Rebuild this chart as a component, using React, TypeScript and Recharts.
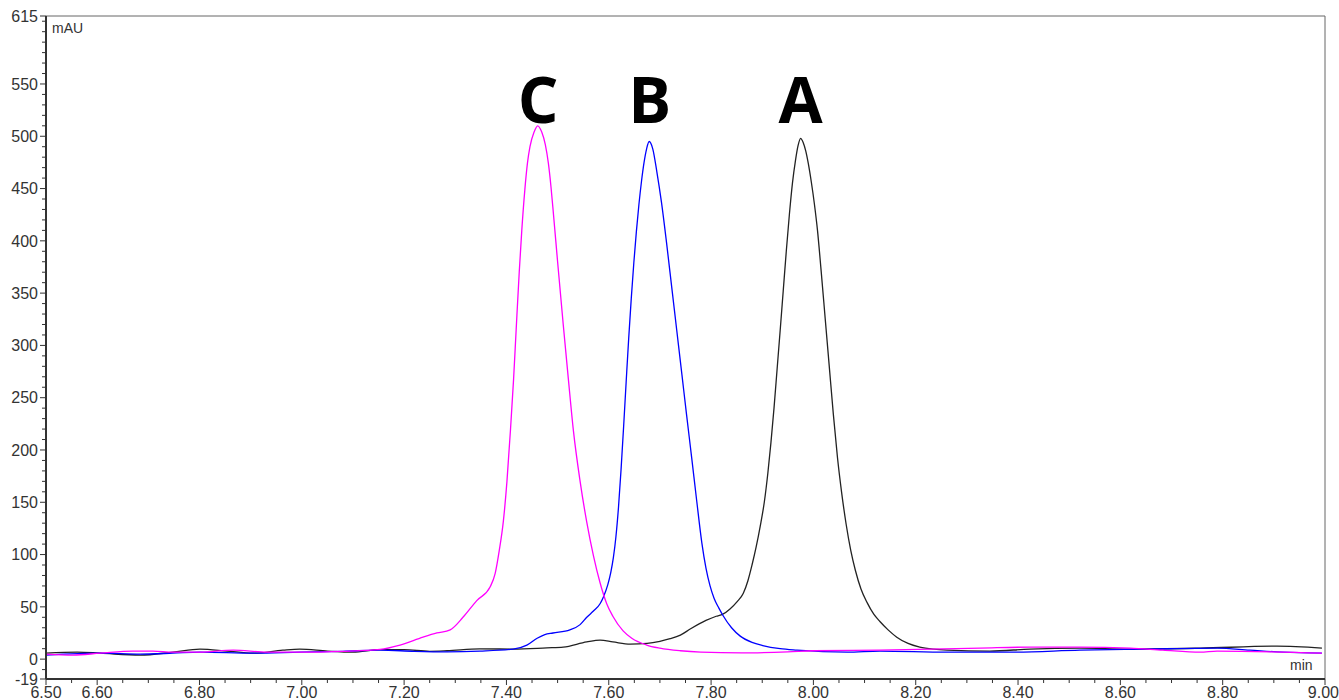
import { ComposedChart, Line, Scatter, XAxis, YAxis, ReferenceArea } from "recharts";

type Pt = { t: number; v: number };

// retention time (min) vs absorbance (mAU)
const seriesA: Pt[] = [
  { t: 6.5, v: 5.7 }, { t: 6.561, v: 6.7 }, { t: 6.606, v: 5.7 }, { t: 6.684, v: 3.8 },
  { t: 6.748, v: 6.7 }, { t: 6.801, v: 9.6 }, { t: 6.854, v: 7.7 }, { t: 6.905, v: 5.7 },
  { t: 6.963, v: 8.6 }, { t: 6.996, v: 9.6 }, { t: 7.05, v: 7.7 }, { t: 7.1, v: 6.7 },
  { t: 7.153, v: 9.0 }, { t: 7.2, v: 9.0 }, { t: 7.25, v: 7.5 }, { t: 7.284, v: 8.0 },
  { t: 7.348, v: 9.8 }, { t: 7.413, v: 9.6 }, { t: 7.479, v: 10.8 }, { t: 7.511, v: 11.5 },
  { t: 7.557, v: 16.5 }, { t: 7.583, v: 18.2 }, { t: 7.608, v: 16.5 }, { t: 7.642, v: 14.3 },
  { t: 7.675, v: 15 }, { t: 7.7, v: 17 }, { t: 7.72, v: 19.5 }, { t: 7.74, v: 23 },
  { t: 7.76, v: 29 }, { t: 7.79, v: 37 }, { t: 7.81, v: 41 }, { t: 7.823, v: 43 },
  { t: 7.837, v: 48 }, { t: 7.851, v: 55 }, { t: 7.863, v: 63 }, { t: 7.872, v: 75 },
  { t: 7.88, v: 90 }, { t: 7.888, v: 107 }, { t: 7.896, v: 127 }, { t: 7.904, v: 150 },
  { t: 7.911, v: 178 }, { t: 7.917, v: 207 }, { t: 7.923, v: 240 }, { t: 7.929, v: 277 },
  { t: 7.935, v: 314 }, { t: 7.941, v: 352 }, { t: 7.947, v: 390 }, { t: 7.953, v: 425 },
  { t: 7.959, v: 455 }, { t: 7.965, v: 477 }, { t: 7.97, v: 491 }, { t: 7.975, v: 498 },
  { t: 7.98, v: 494 }, { t: 7.985, v: 486 }, { t: 7.99, v: 474 }, { t: 7.996, v: 456 },
  { t: 8.002, v: 435 }, { t: 8.008, v: 410 }, { t: 8.015, v: 372 }, { t: 8.023, v: 326 },
  { t: 8.031, v: 280 }, { t: 8.039, v: 234 }, { t: 8.047, v: 193 }, { t: 8.055, v: 160 },
  { t: 8.064, v: 129 }, { t: 8.073, v: 104 }, { t: 8.082, v: 85 }, { t: 8.093, v: 67 },
  { t: 8.105, v: 54 }, { t: 8.118, v: 43 }, { t: 8.13, v: 36 }, { t: 8.146, v: 28 },
  { t: 8.163, v: 21 }, { t: 8.185, v: 15 }, { t: 8.208, v: 11.5 }, { t: 8.235, v: 9.5 },
  { t: 8.261, v: 8.6 }, { t: 8.345, v: 7.7 }, { t: 8.423, v: 9.6 }, { t: 8.521, v: 10.5 },
  { t: 8.619, v: 9.6 }, { t: 8.756, v: 10.5 }, { t: 8.906, v: 12.4 }, { t: 8.994, v: 10.5 },
];

const seriesB: Pt[] = [
  { t: 6.5, v: 3.8 }, { t: 6.606, v: 5.7 }, { t: 6.684, v: 4.8 }, { t: 6.748, v: 5.7 },
  { t: 6.801, v: 6.7 }, { t: 6.905, v: 5.7 }, { t: 6.996, v: 6.7 }, { t: 7.08, v: 7.5 },
  { t: 7.153, v: 8.6 }, { t: 7.22, v: 7.5 }, { t: 7.284, v: 7.0 }, { t: 7.348, v: 7.7 },
  { t: 7.413, v: 9.6 }, { t: 7.44, v: 13.4 }, { t: 7.46, v: 20 }, { t: 7.475, v: 23.5 },
  { t: 7.491, v: 25 }, { t: 7.524, v: 28 }, { t: 7.544, v: 33 }, { t: 7.557, v: 40 },
  { t: 7.57, v: 46 }, { t: 7.583, v: 53 }, { t: 7.59, v: 60 }, { t: 7.598, v: 71 },
  { t: 7.604, v: 83 }, { t: 7.609, v: 97 }, { t: 7.614, v: 117 }, { t: 7.619, v: 145 },
  { t: 7.624, v: 181 }, { t: 7.629, v: 222 }, { t: 7.634, v: 265 }, { t: 7.639, v: 307 },
  { t: 7.644, v: 345 }, { t: 7.649, v: 379 }, { t: 7.654, v: 409 }, { t: 7.659, v: 435 },
  { t: 7.664, v: 457 }, { t: 7.669, v: 475 }, { t: 7.674, v: 488 }, { t: 7.679, v: 495 },
  { t: 7.686, v: 488 }, { t: 7.694, v: 466 }, { t: 7.703, v: 437 }, { t: 7.713, v: 398 },
  { t: 7.723, v: 356 }, { t: 7.733, v: 314 }, { t: 7.743, v: 272 }, { t: 7.752, v: 234 },
  { t: 7.762, v: 193 }, { t: 7.772, v: 151 }, { t: 7.782, v: 111 }, { t: 7.79, v: 87 },
  { t: 7.798, v: 70 }, { t: 7.806, v: 58 }, { t: 7.815, v: 49 }, { t: 7.823, v: 42 },
  { t: 7.84, v: 30 }, { t: 7.857, v: 22 }, { t: 7.88, v: 16 }, { t: 7.901, v: 13 },
  { t: 7.935, v: 10 }, { t: 7.968, v: 8.6 }, { t: 8.066, v: 6.7 }, { t: 8.13, v: 7.7 },
  { t: 8.261, v: 6.7 }, { t: 8.39, v: 6.7 }, { t: 8.521, v: 8.6 }, { t: 8.652, v: 9.6 },
  { t: 8.789, v: 10.5 }, { t: 8.853, v: 8.6 }, { t: 8.918, v: 6.7 }, { t: 8.994, v: 5.7 },
];

const seriesC: Pt[] = [
  { t: 6.5, v: 4.8 }, { t: 6.553, v: 3.8 }, { t: 6.606, v: 5.7 }, { t: 6.67, v: 7.7 },
  { t: 6.709, v: 7.7 }, { t: 6.748, v: 6.7 }, { t: 6.801, v: 6.7 }, { t: 6.866, v: 8.6 },
  { t: 6.932, v: 6.7 }, { t: 6.996, v: 6.7 }, { t: 7.08, v: 7.5 }, { t: 7.153, v: 9.3 },
  { t: 7.192, v: 13.4 }, { t: 7.237, v: 21 }, { t: 7.264, v: 25 }, { t: 7.29, v: 28 },
  { t: 7.315, v: 40 }, { t: 7.342, v: 56 }, { t: 7.368, v: 69 }, { t: 7.378, v: 82 },
  { t: 7.386, v: 104 }, { t: 7.394, v: 132 }, { t: 7.401, v: 170 }, { t: 7.408, v: 220 },
  { t: 7.414, v: 268 }, { t: 7.419, v: 315 }, { t: 7.425, v: 370 }, { t: 7.43, v: 410 },
  { t: 7.436, v: 449 }, { t: 7.441, v: 474 }, { t: 7.446, v: 490 }, { t: 7.454, v: 504 },
  { t: 7.461, v: 510 }, { t: 7.469, v: 504 }, { t: 7.476, v: 492 }, { t: 7.482, v: 474 },
  { t: 7.487, v: 452 }, { t: 7.492, v: 425 }, { t: 7.5, v: 380 }, { t: 7.511, v: 320 },
  { t: 7.521, v: 268 }, { t: 7.531, v: 218 }, { t: 7.544, v: 170 }, { t: 7.557, v: 131 },
  { t: 7.57, v: 99 }, { t: 7.583, v: 73 }, { t: 7.596, v: 53 }, { t: 7.608, v: 41 },
  { t: 7.628, v: 27 }, { t: 7.645, v: 20 }, { t: 7.674, v: 13.5 }, { t: 7.7, v: 10.5 },
  { t: 7.74, v: 8 }, { t: 7.78, v: 6.7 }, { t: 7.86, v: 6 }, { t: 7.95, v: 7 },
  { t: 8.0, v: 8.0 }, { t: 8.13, v: 8.6 }, { t: 8.326, v: 10.5 }, { t: 8.423, v: 11.5 },
  { t: 8.521, v: 11.5 }, { t: 8.619, v: 10.5 }, { t: 8.683, v: 8.6 }, { t: 8.756, v: 6.7 },
  { t: 8.789, v: 7.7 }, { t: 8.994, v: 5.7 },
];

const peakLabels = [
  { t: 7.462, v: 512.6, name: "C" },
  { t: 7.68, v: 512.6, name: "B" },
  { t: 7.975, v: 512.6, name: "A" },
];

const xDomain: [number, number] = [6.5, 9.0];
const yDomain: [number, number] = [-19, 615];
const xLabels = [6.5, 6.6, 6.8, 7.0, 7.2, 7.4, 7.6, 7.8, 8.0, 8.2, 8.4, 8.6, 8.8, 9.0];
const yLabels = [-19, 0, 50, 100, 150, 200, 250, 300, 350, 400, 450, 500, 550, 615];
const xMinorStep = 0.05;
const yMinorStep = 10;

function steps(from: number, to: number, step: number): number[] {
  const out: number[] = [];
  for (let i = 0; from + i * step <= to + 1e-9; i++) out.push(Math.round((from + i * step) * 1000) / 1000);
  return out;
}

const xTicks = steps(xDomain[0], xDomain[1], xMinorStep);
const yTicks = Array.from(new Set([...yLabels, ...steps(-10, 610, yMinorStep)])).sort((a, b) => a - b);

const FONT = "'Liberation Sans', Arial, sans-serif";
const AXIS = "#333";

const isLabel = (list: number[], v: number) => list.some((l) => Math.abs(l - v) < 1e-6);

function XTick(props: any) {
  const { x, y, payload } = props;
  const lab = isLabel(xLabels, payload.value);
  const last = Math.abs(payload.value - xDomain[1]) < 1e-6;
  return (
    <g>
      <line x1={x} y1={y} x2={x} y2={y + (lab ? 6 : 4)} stroke={AXIS} />
      {lab && (
        <text
          x={last ? x + 14 : x}
          y={y + 19}
          textAnchor={last ? "end" : "middle"}
          fontSize={16}
          fill={AXIS}
          fontFamily={FONT}
        >
          {payload.value.toFixed(2)}
        </text>
      )}
    </g>
  );
}

function YTick(props: any) {
  const { x, y, payload } = props;
  const lab = isLabel(yLabels, payload.value);
  return (
    <g>
      <line x1={x} y1={y} x2={x - (lab ? 6 : 4)} y2={y} stroke={AXIS} />
      {lab && (
        <text x={x - 8} y={y} dy="0.36em" textAnchor="end" fontSize={16} fill={AXIS} fontFamily={FONT}>
          {payload.value}
        </text>
      )}
    </g>
  );
}

function PeakName(props: any) {
  const { cx, cy, payload } = props;
  return (
    <text x={cx} y={cy} textAnchor="middle" fontSize={64} fontWeight={700} fill="#000" fontFamily="'Open Sans', sans-serif">
      {payload.name}
    </text>
  );
}

export default function App() {
  return (
    <div style={{ position: "absolute", left: 0, top: 0, width: 1339, height: 700, background: "#fff" }}>
      <ComposedChart width={1339} height={700} margin={{ top: 16, right: 14, bottom: 0, left: 0 }}>
        <XAxis
          dataKey="t"
          type="number"
          domain={xDomain}
          ticks={xTicks}
          interval={0}
          height={21}
          tickSize={0}
          tickMargin={0}
          tickLine={false}
          tick={<XTick />}
          axisLine={{ stroke: AXIS, strokeWidth: 2 }}
          allowDataOverflow
        />
        <YAxis
          type="number"
          domain={yDomain}
          ticks={yTicks}
          interval={0}
          width={46}
          tickSize={0}
          tickMargin={0}
          tickLine={false}
          tick={<YTick />}
          axisLine={{ stroke: AXIS, strokeWidth: 2 }}
          allowDataOverflow
        />
        <ReferenceArea x1={6.5} x2={9.0} y1={-19} y2={615} fill="none" stroke="#666" strokeWidth={1} />
        <Line data={seriesA} dataKey="v" type="monotone" stroke="#222" strokeWidth={1.3} dot={false} activeDot={false} isAnimationActive={false} />
        <Line data={seriesB} dataKey="v" type="monotone" stroke="#0000ff" strokeWidth={1.3} dot={false} activeDot={false} isAnimationActive={false} />
        <Line data={seriesC} dataKey="v" type="monotone" stroke="#ff00ff" strokeWidth={1.3} dot={false} activeDot={false} isAnimationActive={false} />
        <Scatter data={peakLabels} dataKey="v" shape={<PeakName />} isAnimationActive={false} />
      </ComposedChart>
      <div style={{ position: "absolute", left: 52, top: 21, fontSize: 14, lineHeight: 1, color: AXIS, fontFamily: FONT }}>mAU</div>
      <div style={{ position: "absolute", left: 1290, top: 658, fontSize: 14, lineHeight: 1, color: AXIS, fontFamily: FONT }}>min</div>
    </div>
  );
}
